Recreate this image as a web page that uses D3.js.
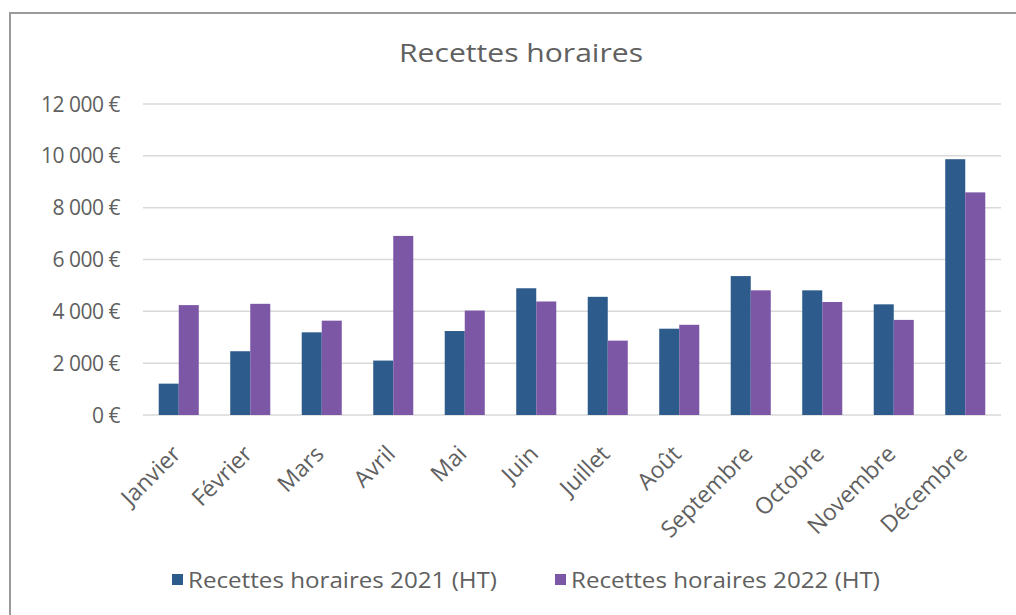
<!DOCTYPE html>
<html>
<head>
<meta charset="utf-8">
<script src="https://cdn.jsdelivr.net/npm/d3@7"></script>
<style>
  body { margin: 0; background: #fff; }
  text { font-family: "Open Sans", Lato, "DejaVu Sans", sans-serif; fill: #606060; }
</style>
</head>
<body>
<div id="chart"></div>
<script>
// Data
var months = ["Janvier", "Février", "Mars", "Avril", "Mai", "Juin",
              "Juillet", "Août", "Septembre", "Octobre", "Novembre", "Décembre"];
var recettes2021 = [1210, 2460, 3190, 2100, 3240, 4890, 4560, 3330, 5360, 4810, 4270, 9870];
var recettes2022 = [4240, 4290, 3640, 6910, 4030, 4380, 2870, 3480, 4810, 4360, 3670, 8590];
var seriesNames = ["Recettes horaires 2021 (HT)", "Recettes horaires 2022 (HT)"];
var yTicks = [0, 2000, 4000, 6000, 8000, 10000, 12000];

var colors = ["#2d5b8c", "#7b57a6"];

var width = 1016,
    height = 615;

var plot = {left: 143, right: 1001, top: 104, bottom: 415};

var svg = d3.select("#chart").append("svg")
  .attr("width", width)
  .attr("height", height);

// frame
svg.append("rect")
  .attr("x", 10).attr("y", 13)
  .attr("width", width + 10).attr("height", height + 10)
  .attr("fill", "none")
  .attr("stroke", "#9a9a9a")
  .attr("stroke-width", 2);

// title
svg.append("text")
  .attr("x", 521).attr("y", 62)
  .attr("text-anchor", "middle")
  .style("font-size", "25px")
  .attr("textLength", 244)
  .attr("lengthAdjust", "spacingAndGlyphs")
  .text("Recettes horaires");

var x0 = d3.scaleBand()
  .domain(months)
  .range([plot.left, plot.right])
  .paddingInner(0.44)
  .paddingOuter(0.22);

var x1 = d3.scaleBand()
  .domain([0, 1])
  .range([0, x0.bandwidth()]);

var y = d3.scaleLinear()
  .domain([0, 12000])
  .range([plot.bottom, plot.top]);

var fmt = function(v) {
  return d3.format(",")(v).replace(/,/g, "\u00a0") + "\u00a0€";
};

// gridlines + y labels
var yAxis = svg.append("g");
yAxis.selectAll("line")
  .data(yTicks)
  .enter().append("line")
  .attr("x1", plot.left).attr("x2", plot.right)
  .attr("y1", function(d) { return y(d); })
  .attr("y2", function(d) { return y(d); })
  .attr("stroke", "#d9d9d9")
  .attr("stroke-width", 1.5);

yAxis.selectAll("text")
  .data(yTicks)
  .enter().append("text")
  .attr("x", 120)
  .attr("y", function(d) { return y(d); })
  .attr("dy", "0.36em")
  .attr("text-anchor", "end")
  .style("font-size", "21px")
  .style("letter-spacing", "-0.5px")
  .text(fmt);

// bars
var groups = svg.append("g").selectAll("g")
  .data(months)
  .enter().append("g")
  .attr("transform", function(d) { return "translate(" + x0(d) + ",0)"; });

groups.selectAll("rect")
  .data(function(d, i) { return [recettes2021[i], recettes2022[i]]; })
  .enter().append("rect")
  .attr("x", function(d, j) { return x1(j); })
  .attr("width", x1.bandwidth())
  .attr("y", function(d) { return y(d); })
  .attr("height", function(d) { return y(0) - y(d); })
  .attr("fill", function(d, j) { return colors[j]; });

// x labels
svg.append("g").selectAll("text")
  .data(months)
  .enter().append("text")
  .attr("transform", function(d) {
    return "translate(" + (x0(d) + x0.bandwidth() / 2 - 8) + "," + (plot.bottom + 29) + ") rotate(-45)";
  })
  .attr("text-anchor", "end")
  .attr("dy", "0.7em")
  .style("font-size", "23px")
  .text(function(d) { return d; });

// legend
var legendX = [172, 555];
var legend = svg.append("g").selectAll("g")
  .data(seriesNames)
  .enter().append("g")
  .attr("transform", function(d, i) { return "translate(" + legendX[i] + ",574)"; });

legend.append("rect")
  .attr("width", 11).attr("height", 11)
  .attr("fill", function(d, i) { return colors[i]; });

legend.append("text")
  .attr("x", 16).attr("y", 14)
  .style("font-size", "21px")
  .attr("textLength", 309)
  .attr("lengthAdjust", "spacingAndGlyphs")
  .text(function(d) { return d; });
</script>
</body>
</html>
